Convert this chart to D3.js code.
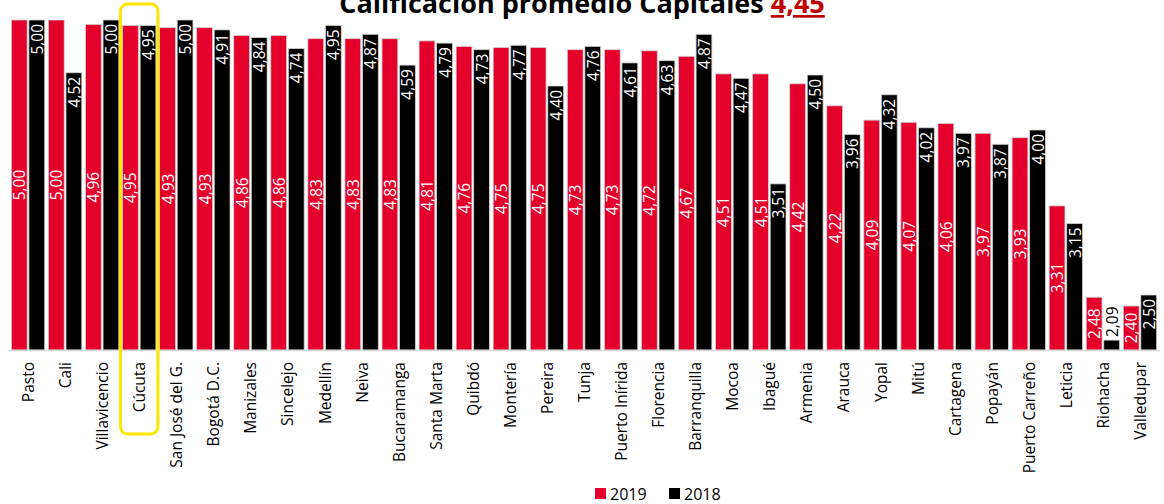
<!DOCTYPE html>
<html>
<head>
    <script src="https://d3js.org/d3.v7.min.js" charset="utf-8"></script>
    <style>
        body { margin: 0; background: #fff; }
        svg { font-family: "Open Sans", sans-serif; }
    </style>
</head>
<body>
<script>
    // Datos: ciudades capitales y calificación por año
    var ciudades = ["Pasto", "Cali", "Villavicencio", "Cúcuta", "San José del G.", "Bogotá D.C.",
        "Manizales", "Sincelejo", "Medellín", "Neiva", "Bucaramanga", "Santa Marta", "Quibdó",
        "Montería", "Pereira", "Tunja", "Puerto Inírida", "Florencia", "Barranquilla", "Mocoa",
        "Ibagué", "Armenia", "Arauca", "Yopal", "Mitú", "Cartagena", "Popayán", "Puerto Carreño",
        "Leticia", "Riohacha", "Valledupar"];
    var valores2019 = [5.00, 5.00, 4.96, 4.95, 4.93, 4.93, 4.86, 4.86, 4.83, 4.83, 4.83, 4.81, 4.76,
        4.75, 4.75, 4.73, 4.73, 4.72, 4.67, 4.51, 4.51, 4.42, 4.22, 4.09, 4.07, 4.06, 3.97, 3.93,
        3.31, 2.48, 2.40];
    var valores2018 = [5.00, 4.52, 5.00, 4.95, 5.00, 4.91, 4.84, 4.74, 4.95, 4.87, 4.59, 4.79, 4.73,
        4.77, 4.40, 4.76, 4.61, 4.63, 4.87, 4.47, 3.51, 4.50, 3.96, 4.32, 4.02, 3.97, 3.87, 4.00,
        3.15, 2.09, 2.50];
    var series = ["2019", "2018"];
    var promedio = "4,45";
    var destacada = "Cúcuta";

    var colores = { "2019": "#e4002b", "2018": "#000000" };
    var fmt = function (v) { return v.toFixed(2).replace(".", ","); };

    var W = 1164, H = 504;
    var y0 = 350, y1 = 20;

    var svg = d3.select("body").append("svg")
        .attr("width", W)
        .attr("height", H);

    var x = d3.scaleBand()
        .domain(ciudades)
        .range([9.5, 1158.5])
        .paddingInner(0.1)
        .paddingOuter(0.05);

    var xs = d3.scaleBand()
        .domain(series)
        .range([0, x.bandwidth()])
        .paddingInner(0.1);

    var y = d3.scaleLinear()
        .domain([2, 5])
        .range([y0, y1]);

    var data = ciudades.map(function (c, i) {
        return { ciudad: c, vals: [
            { serie: "2019", v: valores2019[i] },
            { serie: "2018", v: valores2018[i] }
        ]};
    });

    // Title (cut at the top edge, as in the original)
    var title = svg.append("text")
        .attr("x", 582)
        .attr("y", 13)
        .attr("text-anchor", "middle")
        .style("font-size", "27px")
        .style("font-weight", "bold");
    title.append("tspan").text("Calificación promedio Capitales ");
    title.append("tspan")
        .attr("fill", "#c00000")
        .style("text-decoration", "underline")
        .text(promedio);

    // bars
    var grupos = svg.selectAll(".grupo")
        .data(data)
        .enter().append("g")
        .attr("class", "grupo")
        .attr("transform", function (d) { return "translate(" + x(d.ciudad) + ",0)"; });

    grupos.selectAll("rect")
        .data(function (d) { return d.vals; })
        .enter().append("rect")
        .attr("x", function (d) { return xs(d.serie); })
        .attr("y", function (d) { return y(d.v); })
        .attr("width", xs.bandwidth())
        .attr("height", function (d) { return y0 - y(d.v); })
        .attr("fill", function (d) { return colores[d.serie]; })
        .attr("stroke", "#d0d0d0")
        .attr("stroke-width", 0.8);

    // value labels
    grupos.selectAll(".lbl")
        .data(function (d) { return d.vals; })
        .enter().append("text")
        .attr("class", "lbl")
        .style("font-size", "15.5px")
        .attr("dominant-baseline", "central")
        .attr("transform", function (d) {
            var cx = xs(d.serie) + xs.bandwidth() / 2;
            var cy;
            if (d.serie === "2019") {
                cy = (y(d.v) + y0) / 2;
            } else if (y0 - y(d.v) < 36) {
                cy = y(d.v) - 3;
            } else {
                cy = y(d.v) + 4;
            }
            return "translate(" + cx + "," + cy + ") rotate(-90)";
        })
        .attr("text-anchor", function (d) {
            if (d.serie === "2019") return "middle";
            return (y0 - y(d.v) < 36) ? "start" : "end";
        })
        .attr("fill", function (d) {
            if (d.serie === "2018" && y0 - y(d.v) < 36) return "#000";
            return "#fff";
        })
        .text(function (d) { return fmt(d.v); });

    // baseline
    svg.append("line")
        .attr("x1", 8).attr("x2", 1160)
        .attr("y1", y0 + 0.5).attr("y2", y0 + 0.5)
        .attr("stroke", "#d9d9d9")
        .attr("stroke-width", 1.5);

    // category axis
    var xAxis = d3.axisBottom(x).tickSize(0).tickPadding(0);
    var gx = svg.append("g")
        .attr("transform", "translate(0," + y0 + ")")
        .call(xAxis);
    gx.select(".domain").remove();
    gx.selectAll("text")
        .style("font-family", "'Open Sans', sans-serif")
        .style("font-size", "15.5px")
        .attr("fill", "#000")
        .attr("text-anchor", "end")
        .attr("dominant-baseline", "central")
        .attr("dy", null)
        .attr("y", 0)
        .attr("transform", "translate(0,12) rotate(-90)");

    // highlight box
    svg.append("rect")
        .attr("x", x(destacada) - 2)
        .attr("y", 4)
        .attr("width", x.bandwidth() + 4)
        .attr("height", 430)
        .attr("rx", 7)
        .attr("fill", "none")
        .attr("stroke", "#ffe600")
        .attr("stroke-width", 3);

    // legend
    var leg = svg.append("g").attr("transform", "translate(595,488)");
    var li = leg.selectAll("g").data(series).enter().append("g")
        .attr("transform", function (d, i) { return "translate(" + (i * 74) + ",0)"; });
    li.append("rect")
        .attr("width", 11).attr("height", 11)
        .attr("fill", function (d) { return colores[d]; });
    li.append("text")
        .attr("x", 15).attr("y", 6)
        .attr("dominant-baseline", "central")
        .style("font-size", "16px")
        .text(function (d) { return d; });
</script>
</body>
</html>
